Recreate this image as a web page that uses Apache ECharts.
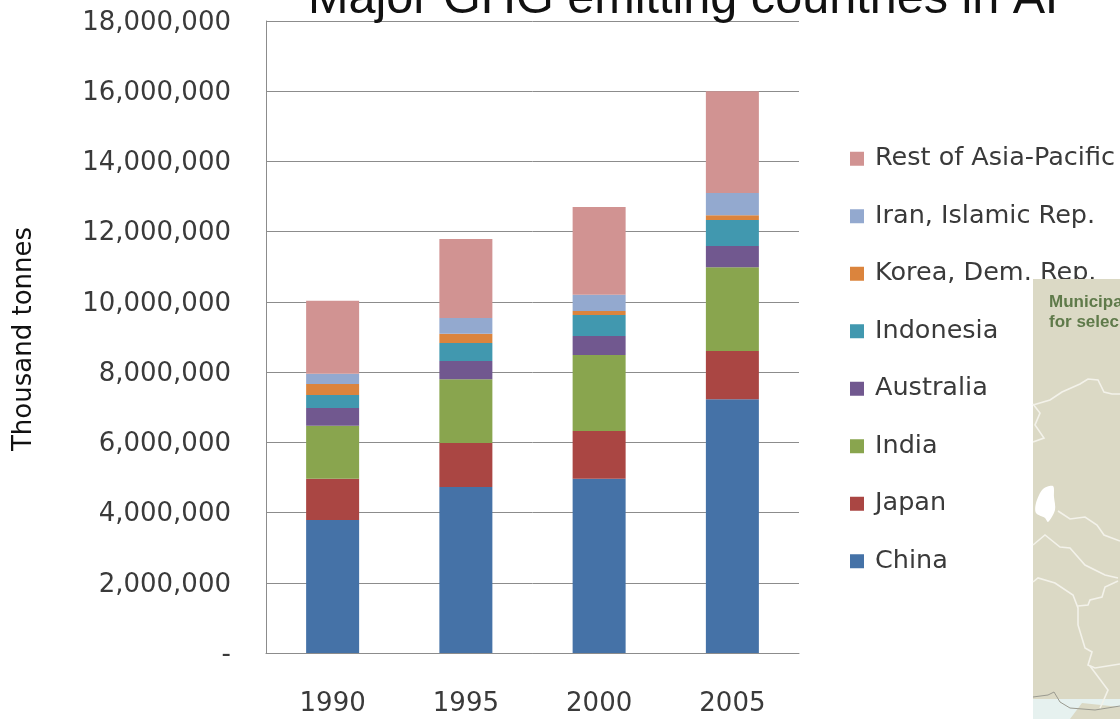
<!DOCTYPE html>
<html><head><meta charset="utf-8">
<style>html,body{margin:0;padding:0;background:#fff}#c{width:1120px;height:719px}</style>
<script src="https://cdn.jsdelivr.net/npm/echarts@6/dist/echarts.min.js"></script>
</head><body><div id="c"></div>
<script>
const categories = ['1990','1995','2000','2005'];
const china     = [3790000,4730000,4960000,7230000];
const japan     = [1170000,1250000,1360000,1370000];
const india     = [1510000,1820000,2170000,2390000];
const australia = [510000,520000,540000,600000];
const indonesia = [370000,510000,600000,740000];
const korea     = [310000,260000,110000,140000];
const iran      = [290000,450000,460000,630000];
const rest      = [2080000,2250000,2500000,2900000];
const seriesDefs = [
  ['China',china,'#4572a7'],['Japan',japan,'#aa4643'],['India',india,'#89a54e'],
  ['Australia',australia,'#71588f'],['Indonesia',indonesia,'#4198af'],
  ['Korea, Dem. Rep.',korea,'#db843d'],['Iran, Islamic Rep.',iran,'#93a9cf'],
  ['Rest of Asia-Pacific',rest,'#d19392']
];
const font = '"DejaVu Sans",sans-serif';
const textCol = '#3a3a3a';
const borders = [
  [[1033,405],[1050,400],[1062,392],[1080,384],[1088,379],[1098,380],[1104,392],[1112,394],[1120,394]],
  [[1033,404],[1040,413],[1035,425],[1044,438],[1033,442]],
  [[1058,511],[1070,519],[1085,517],[1097,525],[1104,535],[1120,541]],
  [[1033,545],[1045,535],[1060,547],[1070,548],[1085,565],[1105,575],[1118,578]],
  [[1118,581],[1105,587],[1102,597],[1090,600],[1088,605],[1078,606]],
  [[1033,582],[1038,578],[1055,583],[1073,595],[1078,608],[1078,625],[1085,648],[1092,652],[1088,665],[1095,668],[1120,664]],
  [[1090,666],[1108,690],[1102,704],[1100,708]]
];
const mapGraphics = [
  {type:'rect',z:50,shape:{x:1033,y:279,width:87,height:440},style:{fill:'#dbd9c5'}},
  {type:'rect',z:51,shape:{x:1033,y:699,width:87,height:20},style:{fill:'#e6f1ef'}},
  {type:'polygon',z:52,shape:{points:[[1070,719],[1082,703],[1120,707],[1120,719]]},style:{fill:'#dbd9c5'}},
  {type:'polyline',z:52,shape:{points:[[1033,697],[1048,695],[1054,692],[1060,702],[1070,708],[1095,710],[1120,706]]},style:{stroke:'#9a9a90',lineWidth:1,fill:'none'}},
  {type:'polygon',z:52,shape:{smooth:0.3,points:[[1036,503],[1043,489],[1053,486],[1054,497],[1055,510],[1048,522],[1045,518],[1036,513]]},style:{fill:'#ffffff'}},
  {type:'text',z:53,style:{x:1049,y:294,text:'Municipa',fill:'#5f7a4a',font:'bold 17px "Liberation Sans",sans-serif'}},
  {type:'text',z:53,style:{x:1049,y:314,text:'for selec',fill:'#5f7a4a',font:'bold 17px "Liberation Sans",sans-serif'}}
].concat(borders.map(p=>({type:'polyline',z:52,shape:{points:p},style:{stroke:'#f3f2ea',lineWidth:1.6,fill:'none'}})));
const chart = echarts.init(document.getElementById('c'),null,{renderer:'canvas'});
chart.setOption({
  animation:false,
  backgroundColor:'#fff',
  title:{text:'Major GHG emitting countries in AP',left:308,top:-25,padding:0,z:10,
    textStyle:{fontFamily:'"Liberation Sans",Arial,sans-serif',fontWeight:'normal',fontSize:48.6,color:'#111'}},
  grid:{left:266,right:321,top:21,bottom:66,containLabel:false},
  legend:{orient:'vertical',left:850,top:144,itemWidth:14,itemHeight:14,itemGap:28,icon:'rect',z:3,padding:0,
    data:seriesDefs.map(s=>s[0]).reverse(),
    textStyle:{fontFamily:font,fontSize:25.5,color:textCol,padding:[0,0,0,6],height:29.5,lineHeight:29.5}},
  xAxis:{type:'category',data:categories,
    axisLine:{show:true,lineStyle:{color:'#8c8c8c',width:1}},axisTick:{show:false},
    axisLabel:{fontFamily:font,fontSize:26,color:textCol,margin:38}},
  yAxis:{type:'value',min:0,max:18000000,interval:2000000,
    name:'Thousand tonnes',nameLocation:'middle',nameGap:229,nameRotate:90,
    nameTextStyle:{fontFamily:font,fontSize:26,color:'#111',padding:[0,4,0,0]},
    axisLine:{show:true,lineStyle:{color:'#8c8c8c',width:1}},axisTick:{show:false},
    splitLine:{show:true,lineStyle:{color:'#8c8c8c',width:1}},
    axisLabel:{fontFamily:font,fontSize:26,color:textCol,margin:35,verticalAlign:'top',lineHeight:4,
      formatter:v=>v===0?'-':v.toLocaleString('en-US')}},
  series:seriesDefs.map(s=>({name:s[0],type:'bar',stack:'t',barWidth:53,data:s[1],itemStyle:{color:s[2]}})),
  graphic:mapGraphics
});
</script></body></html>
